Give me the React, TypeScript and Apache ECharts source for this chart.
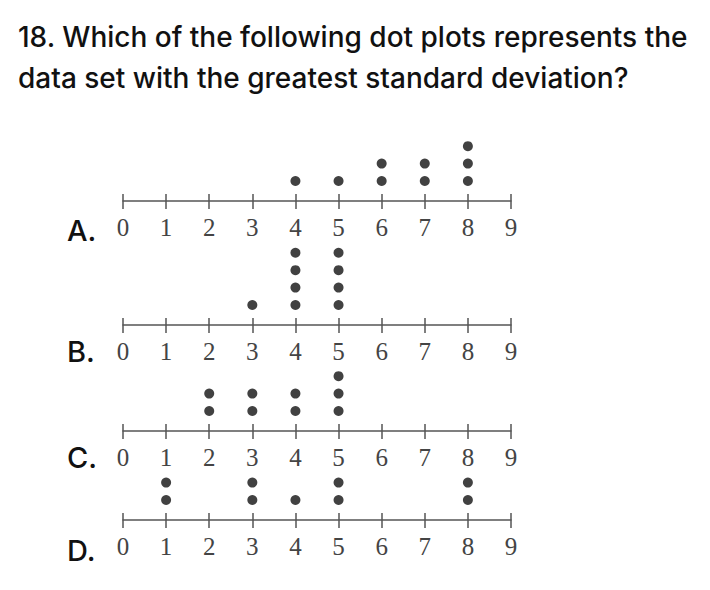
import React, { useEffect, useRef } from "react";
import * as echarts from "echarts";

// ---- data ----
const titleLines = [
  "18. Which of the following dot plots represents the",
  "data set with the greatest standard deviation?",
];
const plotLetters = ["A.", "B.", "C.", "D."];
const tickLabels = ["0", "1", "2", "3", "4", "5", "6", "7", "8", "9"];
const plotA = [4, 5, 6, 6, 7, 7, 8, 8, 8];
const plotB = [3, 4, 4, 4, 4, 5, 5, 5, 5];
const plotC = [2, 2, 3, 3, 4, 4, 5, 5, 5];
const plotD = [1, 1, 3, 3, 4, 5, 5, 8, 8];
const plots = [plotA, plotB, plotC, plotD];

// ---- layout ----
const axisYs = [201, 325, 431, 520];
const letterCenters = [230, 351.5, 457, 550];
const UNIT = 17.4;
const Y_MIN = -0.15;
const Y_MAX = 4.85;
const GRID_H = (Y_MAX - Y_MIN) * UNIT;
const LEFT = 123;
const RIGHT = 710 - 511;

function stackDots(values: number[]) {
  const counts: Record<number, number> = {};
  return values.map((v) => {
    counts[v] = (counts[v] || 0) + 1;
    return [v, counts[v]];
  });
}

export default function App() {
  const ref = useRef<HTMLDivElement>(null);
  useEffect(() => {
    if (!ref.current) return;
    const chart = echarts.init(ref.current, null, { renderer: "svg" });
    const grids: any[] = [];
    const xAxes: any[] = [];
    const yAxes: any[] = [];
    const series: any[] = [];
    plots.forEach((vals, i) => {
      grids.push({
        left: LEFT,
        right: RIGHT,
        top: axisYs[i] - GRID_H,
        height: GRID_H,
        outerBoundsMode: "none",
        containLabel: false,
      });
      xAxes.push({
        type: "value",
        gridIndex: i,
        position: "bottom",
        min: 0,
        max: 9,
        interval: 1,
        axisLine: { show: true, onZero: false, lineStyle: { color: "#555", width: 1.5 } },
        axisTick: { show: true, length: 8, lineStyle: { color: "#555", width: 1.5 } },
        axisLabel: {
          show: true,
          margin: 14,
          fontFamily: "Liberation Serif",
          fontSize: 25,
          color: "#444",
          formatter: (v: number) => tickLabels[v] ?? "",
        },
        splitLine: { show: false },
      });
      xAxes.push({
        type: "value",
        gridIndex: i,
        position: "top",
        offset: -GRID_H,
        min: 0,
        max: 9,
        interval: 1,
        axisLine: { show: false, onZero: false },
        axisTick: { show: true, length: 7, lineStyle: { color: "#555", width: 1.5 } },
        axisLabel: { show: false },
        splitLine: { show: false },
      });
      yAxes.push({
        type: "value",
        gridIndex: i,
        min: Y_MIN,
        max: Y_MAX,
        show: false,
        splitLine: { show: false },
      });
      series.push({
        type: "scatter",
        xAxisIndex: i * 2,
        yAxisIndex: i,
        symbol: "circle",
        symbolSize: 10,
        itemStyle: { color: "#111" },
        data: stackDots(vals),
      });
    });
    const titleStyle = { fontFamily: "Inter", fontSize: 28, fontWeight: 500, fill: "#111" };
    const graphics: any[] = [
      {
        type: "text",
        left: 18,
        top: 37.3 - 14,
        style: { text: titleLines[0], ...titleStyle },
      },
      {
        type: "text",
        left: 18,
        top: 77.7 - 14,
        style: { text: titleLines[1], ...titleStyle },
      },
      ...plotLetters.map((t, i) => ({
        type: "text",
        left: 67,
        top: letterCenters[i] - 14.5,
        style: { text: t, fontFamily: "Inter", fontSize: 29, fontWeight: 500, fill: "#111" },
      })),
    ];
    chart.setOption({
      animation: false,
      backgroundColor: "#fff",
      grid: grids,
      xAxis: xAxes,
      yAxis: yAxes,
      series,
      graphic: graphics,
    });
    return () => chart.dispose();
  }, []);
  return (
    <div
      ref={ref}
      style={{ position: "fixed", left: 0, top: 0, width: 710, height: 590 }}
    />
  );
}
